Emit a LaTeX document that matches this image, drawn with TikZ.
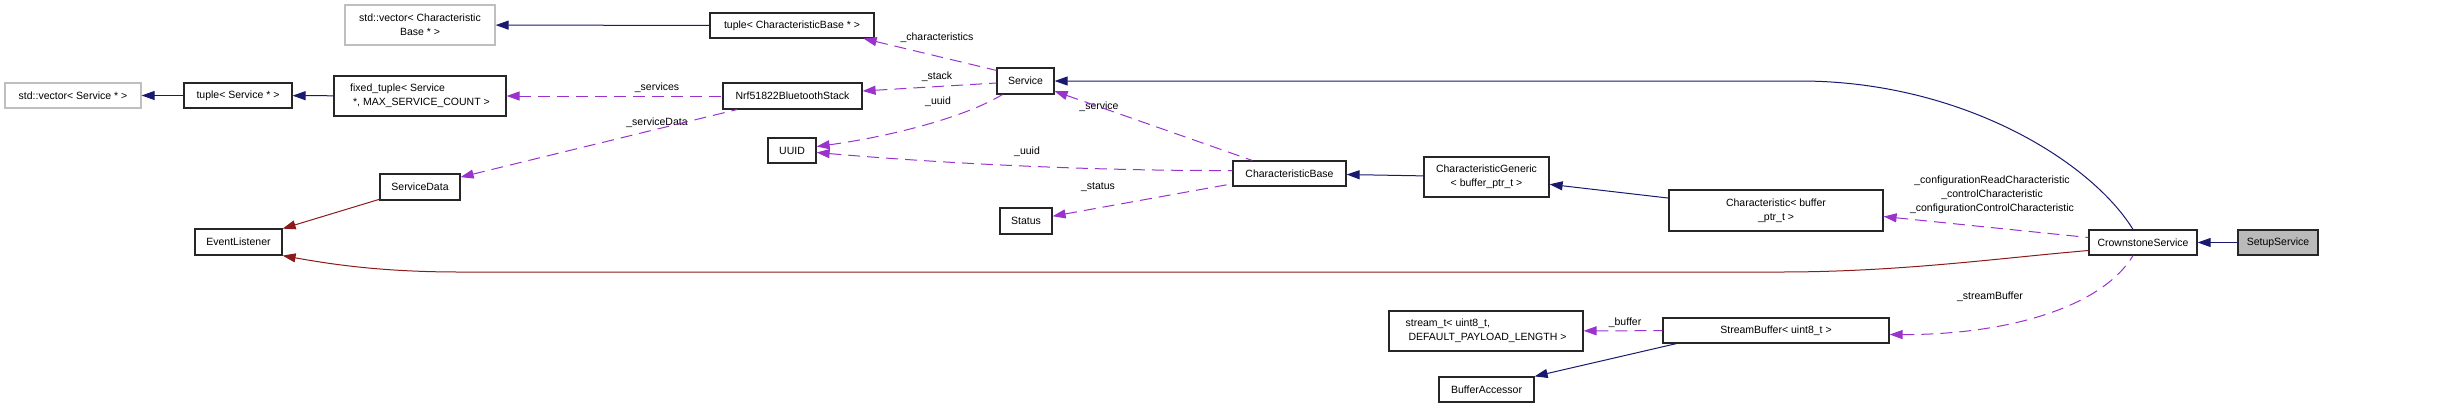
\documentclass[tikz,border=0pt]{standalone}
\usepackage{fontspec}
\setmainfont{Liberation Sans}
\usetikzlibrary{arrows.meta,calc}

\definecolor{inhblue}{HTML}{191970}
\definecolor{usepurple}{HTML}{9A32CD}
\definecolor{privred}{HTML}{8B1A1A}

\begin{document}
\begin{tikzpicture}[
		x=1pt, y=-1pt,
		every node/.style={font=\fontsize{10.5}{14}\selectfont, inner sep=0pt},
		cls/.style={rectangle, draw=black!85, line width=1.2pt, fill=white, minimum height=25pt, align=center},
		ext/.style={cls, draw=black!25},
		cur/.style={cls, fill=black!27},
		lbl/.style={align=center},
		pubinh/.style={inhblue, line width=1pt, {Triangle[length=13pt,width=9pt]}-},
		privinh/.style={privred, line width=1pt, {Triangle[length=13pt,width=9pt]}-},
		uses/.style={usepurple, line width=1pt, dash pattern=on 12pt off 7pt, {Triangle[length=13pt,width=9pt]}-}
	]
		\useasboundingbox (0,0) rectangle (2459,408);
		
		% Left column
		\node[ext, minimum width=150pt, minimum height=40pt] (vecCB) at (420,25) {std::vector< Characteristic\\Base * >};
		\node[ext, minimum width=136pt] (vecSvc) at (73,95.5) {std::vector< Service * >};
		\node[cls, minimum width=108pt] (tupSvc) at (238,95.5) {tuple< Service * >};
		\node[cls, minimum width=172pt, minimum height=40pt, align=left] (fixTup) at (420,96) {fixed\_tuple< Service\\{}~*, MAX\_SERVICE\_COUNT >};
		\node[cls, minimum width=80pt, minimum height=26pt] (svcData) at (420,187) {ServiceData};
		\node[cls, minimum width=87pt, minimum height=26pt] (evtListener) at (238.5,242) {EventListener};
		
		% Middle
		\node[cls, minimum width=164pt] (tupCB) at (792,25.5) {tuple< CharacteristicBase * >};
		\node[cls, minimum width=139pt, minimum height=26pt] (nrfStack) at (792.5,96) {Nrf51822BluetoothStack};
		\node[cls, minimum width=48pt] (uuid) at (792,150.5) {UUID};
		\node[cls, minimum width=57pt, minimum height=26pt] (service) at (1025.5,81) {Service};
		\node[cls, minimum width=52pt, minimum height=26pt] (status) at (1026,221) {Status};
		\node[cls, minimum width=113pt] (charBase) at (1289.5,173.5) {CharacteristicBase};
		\node[cls, minimum width=125pt, minimum height=40pt] (charGeneric) at (1486.5,177) {CharacteristicGeneric\\< buffer\_ptr\_t >};
		\node[cls, minimum width=194pt, minimum height=40pt, align=left] (streamT) at (1486,331) {stream\_t< uint8\_t,\\{}~DEFAULT\_PAYLOAD\_LENGTH >};
		\node[cls, minimum width=95pt] (bufAccessor) at (1486.5,389.5) {BufferAccessor};
		
		% Right
		\node[cls, minimum width=214pt, minimum height=41pt] (charBuffer) at (1776,210.5) {Characteristic< buffer\\\_ptr\_t >};
		\node[cls, minimum width=226pt] (streamBuffer) at (1776,330.5) {StreamBuffer< uint8\_t >};
		\node[cls, minimum width=108pt] (crownstone) at (2143,242.5) {CrownstoneService};
		\node[cur, minimum width=80pt] (setup) at (2278,242.5) {SetupService};
		
		% Edge labels
		\node[lbl] (lCharacteristics) at (937,38) {\_characteristics};
		\node[lbl] (lStack) at (937,77) {\_stack};
		\node[lbl] (lUuidSvc) at (938,102) {\_uuid};
		\node[lbl] (lServices) at (657,88) {\_services};
		\node[lbl] (lServiceData) at (657,123) {\_serviceData};
		\node[lbl] (lUuidCB) at (1027,152) {\_uuid};
		\node[lbl] (lService) at (1099,107) {\_service};
		\node[lbl] (lStatus) at (1098,187) {\_status};
		\node[lbl] (lConfig) at (1992,195) {\_configurationReadCharacteristic\\\_controlCharacteristic\\\_configurationControlCharacteristic};
		\node[lbl] (lBuffer) at (1625,323) {\_buffer};
		\node[lbl] (lStreamBuffer) at (1990,297) {\_streamBuffer};
		
		% Public inheritance
		\draw[pubinh] (vecCB) -- (tupCB);
		\draw[pubinh] (vecSvc) -- (tupSvc);
		\draw[pubinh] (tupSvc) -- (fixTup);
		\draw[pubinh] (charBase) -- (charGeneric);
		\draw[pubinh] (charGeneric) -- (charBuffer);
		\draw[pubinh] (crownstone) -- (setup);
		\draw[pubinh] (bufAccessor.north east) -- ($(streamBuffer.south west)+(14,0)$);
		\draw[pubinh] (service.east) -- (1800,81) .. controls (1960,81) and (2090,160) .. ($(crownstone.north)+(-10,0)$);
		
		% Private inheritance
		\draw[privinh] (evtListener) -- (svcData);
		\draw[privinh] (evtListener.south east) .. controls (330,264) and (380,272) .. (460,272) -- (1780,272) .. controls (1900,272) and (2000,258) .. ($(crownstone.west)+(0,8)$);
		
		% Usage
		\draw[uses] ($(tupCB.south east)+(-11,0)$) -- (service.160);
		\draw[uses] ($(nrfStack.east)+(0,-5)$) -- ($(service.west)+(0,2)$);
		\draw[uses] (fixTup) -- (nrfStack);
		\draw[uses] (svcData) -- (nrfStack);
		\draw[uses] ($(uuid.east)+(0,-4)$) .. controls (880,138) and (960,120) .. ($(service.south west)+(6,0)$);
		\draw[uses] ($(uuid.east)+(0,2)$) .. controls (950,164) and (1100,171) .. ($(charBase.west)+(0,-3)$);
		\draw[uses] (service) -- (charBase);
		\draw[uses] (status) -- (charBase);
		\draw[uses] ($(charBuffer.east)+(0,6)$) -- ($(crownstone.west)+(0,-5)$);
		\draw[uses] (streamT) -- (streamBuffer);
		\draw[uses] ($(streamBuffer.east)+(0,4)$) .. controls (2000,335) and (2100,310) .. ($(crownstone.south)+(-10,0)$);
	\end{tikzpicture}
\end{document}
